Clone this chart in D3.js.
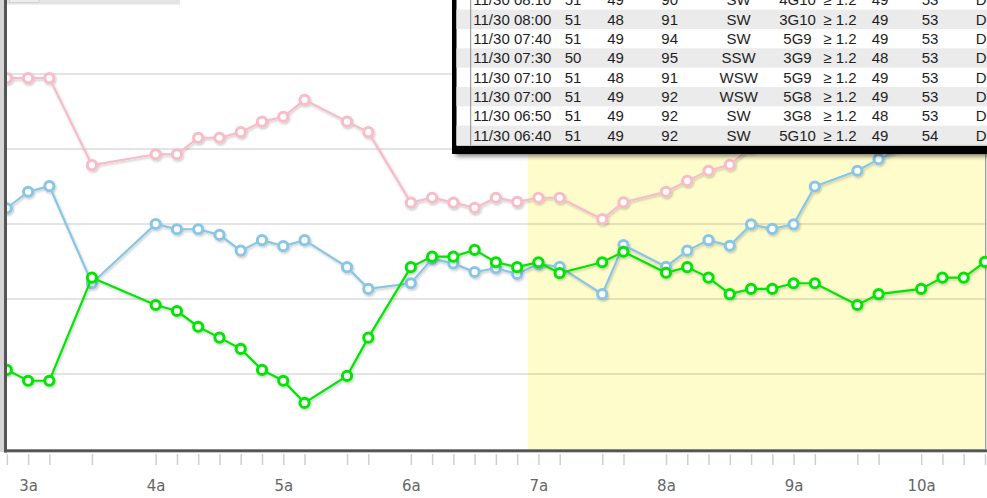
<!DOCTYPE html>
<html>
<head>
<meta charset="utf-8">
<script src="https://cdn.jsdelivr.net/npm/d3@7"></script>
<style>
  html, body { margin: 0; padding: 0; background: #fff; overflow: hidden; }
  svg { display: block; }
</style>
</head>
<body>
<svg id="chart" width="987" height="498"></svg>
<script>
// Observation times (local, 11/30)
const obsTimes = ["2:50","3:00","3:10","3:30","4:00","4:10","4:20","4:30","4:40","4:50",
  "5:00","5:10","5:30","5:40","6:00","6:10","6:20","6:30","6:40","6:50",
  "7:00","7:10","7:30","7:40","8:00","8:10","8:20","8:30","8:40","8:50",
  "9:00","9:10","9:30","9:40","10:00","10:10","10:20","10:30"];

// Series values (°F)
const temperature = [54.19,54.19,54.19,51.87,52.16,52.16,52.60,52.60,52.75,53.03,
  53.16,53.61,53.03,52.75,50.87,51.00,50.87,50.73,51.00,50.89,
  51.00,51.00,50.43,50.88,51.16,51.45,51.72,51.88,52.35,52.60,
  52.70,52.80,53.00,53.10,53.30,53.40,53.50,53.60];
const wetBulb = [50.72,51.16,51.31,48.72,50.30,50.16,50.16,50.01,49.59,49.87,
  49.71,49.87,49.15,48.57,48.72,49.37,49.25,49.02,49.12,48.97,
  49.23,49.16,48.43,49.74,49.16,49.59,49.87,49.72,50.29,50.17,
  50.29,51.30,51.72,52.03,52.54,52.70,52.80,52.90];
const dewPoint = [46.41,46.12,46.12,48.87,48.14,47.98,47.56,47.27,46.97,46.41,
  46.12,45.53,46.25,47.27,49.15,49.43,49.43,49.61,49.28,49.15,
  49.28,48.99,49.28,49.56,49.00,49.15,48.87,48.43,48.57,48.57,
  48.72,48.72,48.14,48.43,48.57,48.87,48.87,49.29];

// Axis / grid settings
const hourTicks = ["3:00","4:00","5:00","6:00","7:00","8:00","9:00","10:00"];
const gridValues = [46.3, 48.3, 50.3, 52.3, 54.3];
const timeWindow = ["2:49:36", "10:30:30"];
const daylightStart = "6:55";

// Latest observations table
const tblTime = ["11/30 08:10","11/30 08:00","11/30 07:40","11/30 07:30","11/30 07:10","11/30 07:00","11/30 06:50","11/30 06:40"];
const tblTemp = ["51","51","51","50","51","51","51","51"];
const tblDew  = ["49","48","49","49","48","49","49","49"];
const tblRH   = ["90","91","94","95","91","92","92","92"];
const tblDir  = ["SW","SW","SW","SSW","WSW","WSW","SW","SW"];
const tblWind = ["4G10","3G10","5G9","3G9","5G9","5G8","3G8","5G10"];
const tblVis  = ["≥ 1.2","≥ 1.2","≥ 1.2","≥ 1.2","≥ 1.2","≥ 1.2","≥ 1.2","≥ 1.2"];
const tblWetB = ["49","49","49","48","49","49","48","49"];
const tblHi   = ["53","53","53","53","53","53","53","54"];
const tblWx   = ["Drizzle","Drizzle","Drizzle","Drizzle","Drizzle","Drizzle","Drizzle","Drizzle"];

const parseT = s => {
  const p = s.split(":").map(Number);
  return new Date(2023, 10, 30, p[0], p[1], p[2] || 0);
};
const times = obsTimes.map(parseT);

const svg = d3.select("#chart");
const W = 987, H = 498;
const plot = { left: 6, right: 986, top: -1, bottom: 449 };

const x = d3.scaleTime().domain(timeWindow.map(parseT)).range([plot.left, plot.right]);
const y = d3.scaleLinear().domain([44.3, 56.3]).range([plot.bottom, plot.top]);

const defs = svg.append("defs");
const sh = defs.append("filter").attr("id", "lineShadow")
  .attr("x", "-5%").attr("y", "-5%").attr("width", "110%").attr("height", "110%");
sh.append("feDropShadow").attr("dx", 1).attr("dy", 1.5).attr("stdDeviation", 1)
  .attr("flood-color", "#000").attr("flood-opacity", 0.22);
const tsh = defs.append("filter").attr("id", "tableShadow")
  .attr("x", "-10%").attr("y", "-10%").attr("width", "120%").attr("height", "130%");
tsh.append("feGaussianBlur").attr("stdDeviation", 2.5);

svg.append("rect").attr("width", W).attr("height", H).attr("fill", "#fff");

// daylight shading
svg.append("rect")
  .attr("x", x(parseT(daylightStart))).attr("y", 0)
  .attr("width", plot.right - x(parseT(daylightStart)))
  .attr("height", plot.bottom)
  .attr("fill", "#fffccc");

// horizontal grid
svg.append("g").selectAll("line").data(gridValues).join("line")
  .attr("x1", plot.left).attr("x2", plot.right)
  .attr("y1", d => y(d)).attr("y2", d => y(d))
  .attr("stroke", "rgba(0,0,0,0.14)").attr("stroke-width", 1.5);

// right frame
svg.append("line").attr("x1", 985.7).attr("x2", 985.7).attr("y1", 0).attr("y2", plot.bottom)
  .attr("stroke", "#9a9a9a").attr("stroke-width", 1.3);

// series
const seriesList = [
  { values: temperature, color: "#f8bcc8" },
  { values: wetBulb,     color: "#88c6e6" },
  { values: dewPoint,    color: "#00e600" }
];
const line = d3.line().x(d => x(d.t)).y(d => y(d.v));
seriesList.forEach(s => {
  const pts = times.map((t, i) => ({ t, v: s.values[i] }));
  const g = svg.append("g").attr("filter", "url(#lineShadow)");
  g.append("path").datum(pts).attr("d", line)
    .attr("fill", "none").attr("stroke", s.color).attr("stroke-width", 2.2);
  g.selectAll("circle").data(pts).join("circle")
    .attr("cx", d => x(d.t)).attr("cy", d => y(d.v)).attr("r", 4.6)
    .attr("fill", "#fff").attr("stroke", s.color).attr("stroke-width", 3);
});

// axes frame
svg.append("rect").attr("x", 0).attr("y", 0).attr("width", 4).attr("height", 452).attr("fill", "#d6d6d6");
svg.append("rect").attr("x", 4).attr("y", 0).attr("width", 3).attr("height", 452.5).attr("fill", "#555");
svg.append("rect").attr("x", 4).attr("y", 449.3).attr("width", W).attr("height", 3).attr("fill", "#555");

// observation ticks
const tickAxis = d3.axisBottom(x).tickValues(times).tickSize(11).tickFormat("");
const gt = svg.append("g").attr("transform", "translate(0,454)").call(tickAxis);
gt.select(".domain").remove();
gt.selectAll(".tick line").attr("stroke", "#cfcfcf").attr("stroke-width", 1.5);

// hour labels
const hourFmt = d => d3.timeFormat("%-I")(d) + (d.getHours() < 12 ? "a" : "p");
const hourAxis = d3.axisBottom(x).tickValues(hourTicks.map(parseT)).tickSize(0).tickPadding(0).tickFormat(hourFmt);
const gh = svg.append("g").attr("transform", "translate(0,480)").call(hourAxis);
gh.select(".domain").remove();
gh.selectAll(".tick text")
  .attr("dy", "0.71em").attr("y", 0)
  .attr("fill", "#666").attr("font-family", "DejaVu Sans, sans-serif").attr("font-size", 15);

// top-left control strip
svg.append("rect").attr("x", 7).attr("y", -1).attr("width", 173).attr("height", 5.5).attr("fill", "#e4e4e4");
svg.append("rect").attr("x", 9.5).attr("y", -1).attr("width", 29.5).attr("height", 3.5)
  .attr("fill", "#ececec").attr("stroke", "#d2d2d2").attr("stroke-width", 1);

// observations table
const tbl = svg.append("g");
tbl.append("rect").attr("x", 456).attr("y", -20).attr("width", 600).attr("height", 176)
  .attr("fill", "rgba(0,0,0,0.55)").attr("filter", "url(#tableShadow)");
tbl.append("rect").attr("x", 452).attr("y", -20).attr("width", 600).attr("height", 174).attr("fill", "#000");
tbl.append("rect").attr("x", 456.5).attr("y", -20).attr("width", 600).attr("height", 165.8).attr("fill", "#fff");

const rowH = 19.33;
const rows = tblTime.map((t, i) => ({
  i, cells: [tblTime[i], tblTemp[i], tblDew[i], tblRH[i], tblDir[i], tblWind[i], tblVis[i], tblWetB[i], tblHi[i], tblWx[i]]
}));
const cols = [
  { x: 473.3, anchor: "start" },
  { x: 573,   anchor: "middle" },
  { x: 615.5, anchor: "middle" },
  { x: 669.7, anchor: "middle" },
  { x: 738.7, anchor: "middle" },
  { x: 797.5, anchor: "middle" },
  { x: 840,   anchor: "middle" },
  { x: 880,   anchor: "middle" },
  { x: 930,   anchor: "middle" },
  { x: 975.7, anchor: "start" }
];
tbl.selectAll("rect.rowbg").data(rows.filter(r => r.i % 2 === 1)).join("rect")
  .attr("class", "rowbg")
  .attr("x", 456.5).attr("y", r => r.i * rowH - rowH / 2)
  .attr("width", 540).attr("height", rowH).attr("fill", "#ebebeb");
tbl.append("line").attr("x1", 470.7).attr("x2", 470.7).attr("y1", -20).attr("y2", 145.5)
  .attr("stroke", "#8a8a8a").attr("stroke-width", 1);
tbl.append("line").attr("x1", 470.7).attr("x2", 987).attr("y1", 145.3).attr("y2", 145.3)
  .attr("stroke", "#c4c4c4").attr("stroke-width", 1);

const rowG = tbl.selectAll("g.row").data(rows).join("g").attr("class", "row")
  .attr("transform", r => `translate(0,${r.i * rowH + 5.4})`);
rowG.selectAll("text").data(r => r.cells.map((c, k) => ({ c, k }))).join("text")
  .attr("x", d => cols[d.k].x).attr("text-anchor", d => cols[d.k].anchor)
  .attr("font-family", "Liberation Sans, Arial, sans-serif").attr("font-size", 15)
  .attr("fill", "#1e1e1e")
  .text(d => d.c);
</script>
</body>
</html>
